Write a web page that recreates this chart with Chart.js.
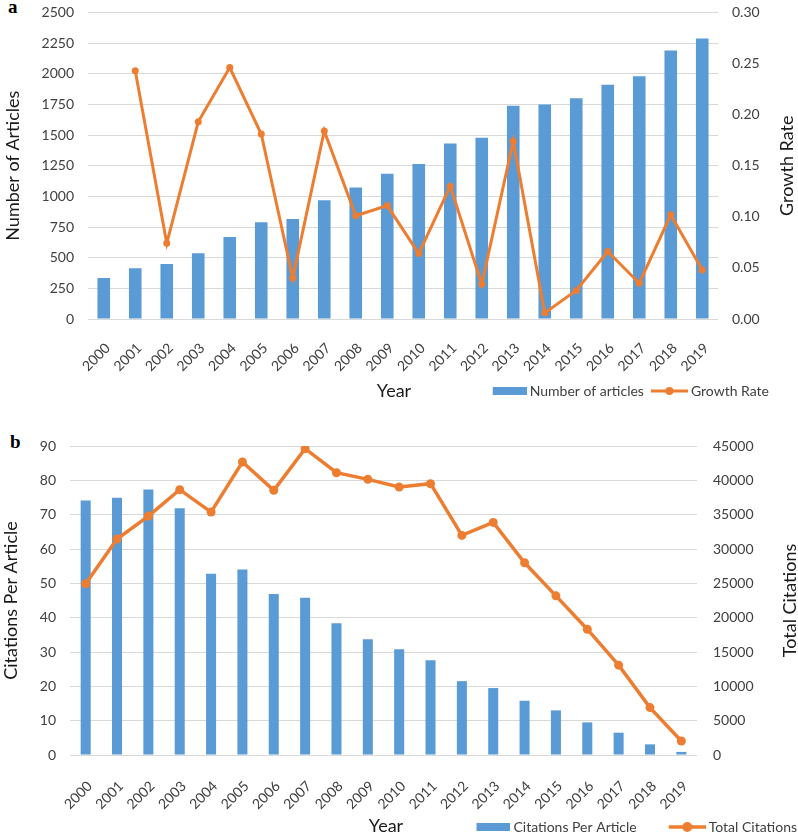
<!DOCTYPE html>
<html><head><meta charset="utf-8">
<script src="https://cdn.jsdelivr.net/npm/chart.js@4.4.0/dist/chart.umd.min.js"></script>
<style>
html,body{margin:0;padding:0;background:#fff;overflow:hidden;width:798px;height:833px;position:relative}
canvas{position:absolute;left:0}
#c1{top:-10px;width:798px;height:425px}
#c2{top:415px;width:820px;height:430px}
.lab{position:absolute;font-family:"Liberation Serif","Times New Roman",serif;font-weight:bold;font-size:19px;line-height:19px;color:#000}
</style></head><body>
<div class="lab" style="left:8px;top:-3px">a</div>
<div class="lab" style="left:10px;top:432px">b</div>
<canvas id="c1" width="798" height="425"></canvas>
<canvas id="c2" width="820" height="430"></canvas>
<script>
const years = ['2000','2001','2002','2003','2004','2005','2006','2007','2008','2009','2010','2011','2012','2013','2014','2015','2016','2017','2018','2019'];
const numberOfArticles = [334, 414, 448, 536, 669, 788, 815, 969, 1072, 1184, 1263, 1431, 1478, 1738, 1749, 1799, 1911, 1980, 2189, 2287];
const growthRate = [null, 0.243, 0.074, 0.193, 0.246, 0.181, 0.040, 0.184, 0.101, 0.111, 0.064, 0.130, 0.034, 0.174, 0.006, 0.028, 0.066, 0.035, 0.102, 0.048];
const citationsPerArticle = [74.1, 74.9, 77.3, 71.9, 52.8, 54.0, 46.9, 45.8, 38.4, 33.7, 30.8, 27.6, 21.5, 19.5, 15.8, 13.0, 9.5, 6.5, 3.1, 0.9];
const totalCitations = [24930, 31450, 34800, 38640, 35380, 42670, 38540, 44610, 41110, 40140, 39030, 39510, 31980, 33870, 27990, 23180, 18320, 13080, 6900, 2040];

const BLUE = '#5B9BD5';
const ORANGE = '#ED7D31';
const GRID = '#D9D9D9';
const TICK = '#404040';
const TITLE = '#1a1a1a';

Chart.defaults.font.family = 'Lato';
Chart.defaults.font.size = 14;
Chart.defaults.color = TICK;

// legend icons: image is 8px wider than the legend box, content right-aligned
function rectIcon(w){
  const W = w + 8;
  const c = document.createElement('canvas'); c.width = W; c.height = 8;
  const g = c.getContext('2d'); g.fillStyle = BLUE; g.fillRect(W - 34, 0, 34, 8); return c;
}
function lineIcon(w, lw, r){
  const W = w + 8;
  const c = document.createElement('canvas'); c.width = W; c.height = 12;
  const g = c.getContext('2d');
  const x0 = W - 37;
  g.strokeStyle = ORANGE; g.lineWidth = lw;
  g.beginPath(); g.moveTo(x0, 6); g.lineTo(W, 6); g.stroke();
  g.fillStyle = ORANGE; g.beginPath(); g.arc(x0 + 18.5, 6, r, 0, Math.PI * 2); g.fill();
  return c;
}

const extraTitles = {
  id: 'extraTitles',
  afterDraw(chart, args, o){
    const ctx = chart.ctx, ca = chart.chartArea;
    ctx.save();
    ctx.font = '18px Lato';
    ctx.fillStyle = TITLE;
    ctx.textAlign = 'center';
    ctx.textBaseline = 'middle';
    ctx.fillText(o.xTitle, o.xTitleX, o.xTitleY);
    ctx.translate(o.rightTitleX, (ca.top + ca.bottom) / 2);
    ctx.rotate(-Math.PI / 2);
    ctx.fillText(o.rightTitle, 0, 0);
    ctx.restore();
  }
};

function legendLabels(icons){
  return function(chart){
    const items = Chart.defaults.plugins.legend.labels.generateLabels(chart);
    items.sort((a, b) => a.datasetIndex - b.datasetIndex);
    items.forEach(it => { it.pointStyle = icons[it.datasetIndex]; it.fontColor = TICK; });
    return items;
  };
}

function makeChart(id, cfg){
  return new Chart(document.getElementById(id), {
    type: 'bar',
    data: {
      labels: years,
      datasets: [
        { type: 'bar', label: cfg.barLabel, data: cfg.barData, backgroundColor: BLUE, borderWidth: 0,
          yAxisID: 'y', order: 1, barPercentage: cfg.barPct, categoryPercentage: 1.0 },
        { type: 'line', label: cfg.lineLabel, data: cfg.lineData, borderColor: ORANGE, backgroundColor: ORANGE,
          borderWidth: cfg.lineW, pointRadius: cfg.pointR, pointBackgroundColor: ORANGE, pointBorderWidth: 0,
          tension: 0, yAxisID: 'y1', order: 0 }
      ]
    },
    options: {
      responsive: false,
      animation: false,
      devicePixelRatio: 1,
      layout: { padding: cfg.padding },
      plugins: {
        tooltip: { enabled: false },
        legend: {
          position: 'bottom', align: 'end',
          labels: {
            usePointStyle: true, pointStyleWidth: cfg.iconW, boxHeight: 14,
            padding: 4, font: { size: 14 }, color: TICK,
            generateLabels: legendLabels([rectIcon(cfg.iconW), lineIcon(cfg.iconW, cfg.lineW, cfg.pointR + 0.5)])
          }
        },
        extraTitles: cfg.titles
      },
      scales: {
        x: {
          grid: { display: false }, border: { display: false },
          ticks: { autoSkip: false, minRotation: 45, maxRotation: 45, padding: cfg.xTickPad, labelOffset: 4, color: TICK, font: { size: 14 } },
          afterFit: s => { s.height = cfg.xHeight; }
        },
        y: {
          position: 'left', min: 0, max: cfg.yMax,
          ticks: { stepSize: cfg.yStep, padding: 14, color: TICK, font: { size: 14 }, callback: v => String(v) },
          grid: { color: GRID, lineWidth: 1, drawTicks: false },
          border: { display: false },
          title: { display: true, text: cfg.yTitle, color: TITLE, font: { size: 18 }, padding: { top: cfg.yTitlePad, bottom: 0 } },
          afterFit: s => { s.width = cfg.leftW; }
        },
        y1: {
          position: 'right', min: 0, max: cfg.y1Max,
          ticks: { stepSize: cfg.y1Step, padding: cfg.y1TickPad, color: TICK, font: { size: 14 }, callback: cfg.y1Fmt },
          grid: { display: false, drawTicks: false },
          border: { display: false },
          afterFit: s => { s.width = cfg.rightW; }
        }
      }
    },
    plugins: [extraTitles]
  });
}

makeChart('c1', {
  barLabel: 'Number of articles', barData: numberOfArticles, barPct: 0.40,
  lineLabel: 'Growth Rate', lineData: growthRate, lineW: 3, pointR: 3.5, iconW: 36,
  padding: { top: 15, left: 0, right: 25, bottom: 7 },
  xTickPad: 13, xHeight: 61,
  yMax: 2500, yStep: 250, yTitle: 'Number of Articles', yTitlePad: 2, leftW: 88,
  y1Max: 0.30, y1Step: 0.05, y1TickPad: 14, y1Fmt: v => Number(v).toFixed(2), rightW: 55,
  titles: { xTitle: 'Year', xTitleX: 394, xTitleY: 401, rightTitle: 'Growth Rate', rightTitleX: 787 }
});

makeChart('c2', {
  barLabel: 'Citations Per Article', barData: citationsPerArticle, barPct: 0.32,
  lineLabel: 'Total Citations', lineData: totalCitations, lineW: 3.5, pointR: 4.5, iconW: 61,
  padding: { top: 31, left: 0, right: 19, bottom: 1 },
  xTickPad: 15, xHeight: 61,
  yMax: 90, yStep: 10, yTitle: 'Citations Per Article', yTitlePad: 0, leftW: 70,
  y1Max: 45000, y1Step: 5000, y1TickPad: 16, y1Fmt: v => String(Math.round(v)), rightW: 104,
  titles: { xTitle: 'Year', xTitleX: 386, xTitleY: 411, rightTitle: 'Total Citations', rightTitleX: 790 }
});
</script>
</body></html>
